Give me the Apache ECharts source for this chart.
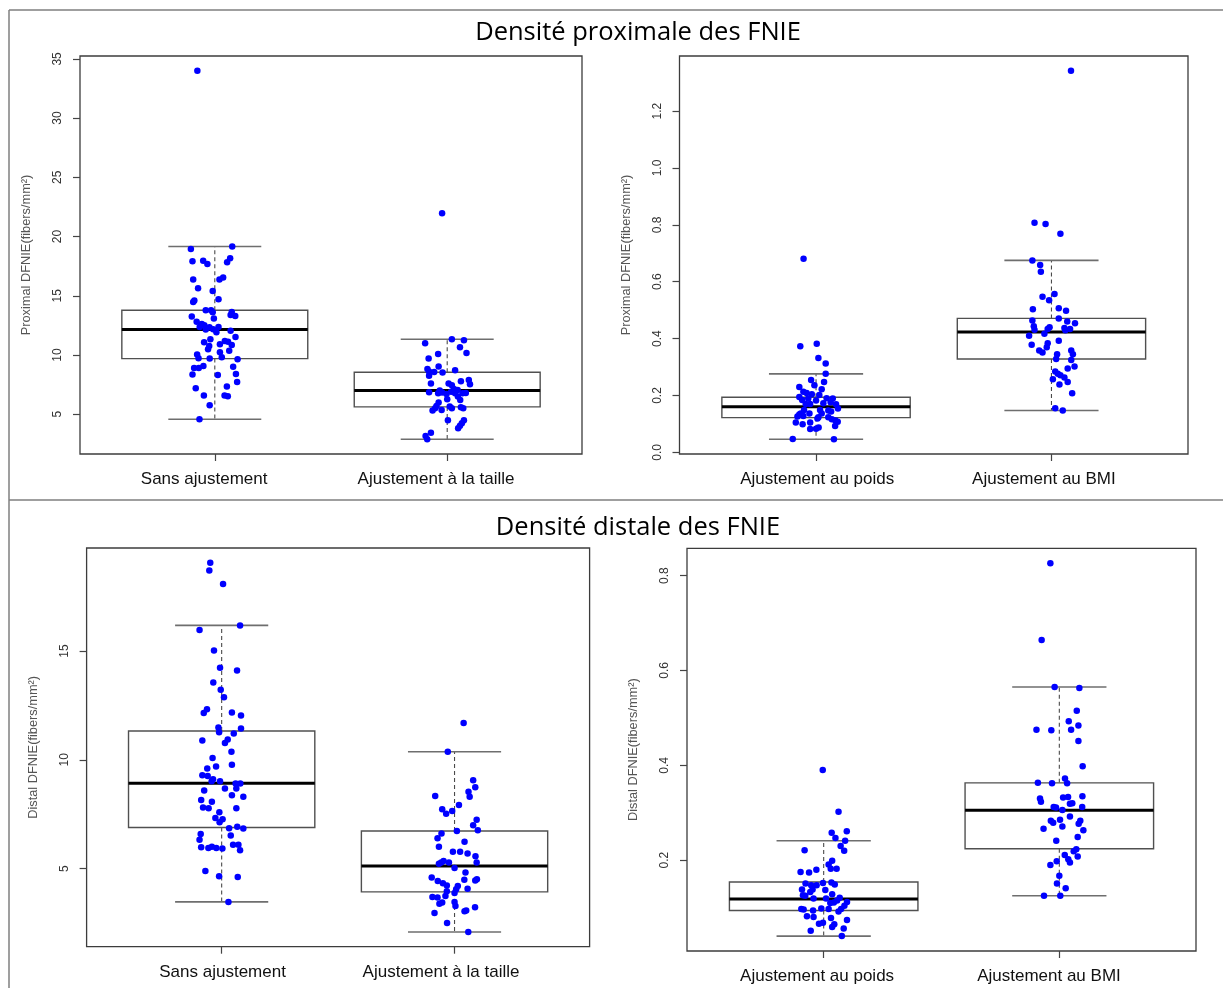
<!DOCTYPE html>
<html>
<head>
<meta charset="utf-8">
<script src="https://cdn.jsdelivr.net/npm/echarts@6.0.0/dist/echarts.min.js"></script>
<style>
  html, body { margin: 0; padding: 0; background: #ffffff; }
  #chart { width: 1223px; height: 988px; }
</style>
</head>
<body>
<div id="chart"></div>
<script>
// ---------------- DATA ----------------
const catsLeft = ['Sans ajustement', 'Ajustement à la taille'];
const catsRight = ['Ajustement au poids', 'Ajustement au BMI'];

const yNameProx = 'Proximal DFNIE(fibers/mm²)';
const yNameDist = 'Distal DFNIE(fibers/mm²)';

// box statistics [lower whisker, Q1, median, Q3, upper whisker]
const statsProxSans   = [4.58, 9.70, 12.15, 13.78, 19.16];
const statsProxTaille = [2.89, 5.62, 7.00, 8.55, 11.33];
const statsProxPoids  = [0.046, 0.122, 0.160, 0.194, 0.276];
const statsProxBMI    = [0.147, 0.328, 0.423, 0.471, 0.675];
const statsDistSans   = [3.47, 6.89, 8.93, 11.33, 16.18];
const statsDistTaille = [2.09, 3.93, 5.12, 6.73, 10.37];
const statsDistPoids  = [0.040, 0.094, 0.118, 0.154, 0.241];
const statsDistBMI    = [0.125, 0.224, 0.305, 0.363, 0.565];

// individual observations
const valsProxSans = [
  18.96,19.16,17.92,17.95,17.69,18.17,17.83,16.37,16.54,16.37,
  15.64,15.41,14.71,14.60,14.48,13.78,13.78,13.61,13.64,13.39,
  13.30,13.25,13.08,12.82,12.63,12.37,12.51,12.35,12.37,12.15,
  12.17,11.92,12.06,11.53,11.33,11.08,11.19,11.13,10.91,10.85,
  10.77,10.49,10.23,10.37,10.04,9.73,9.70,9.81,9.64,8.91,
  8.91,9.08,9.02,8.35,8.32,8.40,7.73,7.19,7.34,6.58,
  6.58,6.52,5.76,4.58,34.00
];
const jitProxSans = [
  -0.103,0.075,-0.096,-0.050,-0.032,0.066,0.053,-0.093,0.036,0.020,
  -0.072,-0.009,0.016,-0.088,-0.093,-0.039,-0.016,-0.009,0.073,0.068,
  0.088,-0.099,-0.004,-0.078,-0.056,-0.065,-0.045,-0.023,0.016,-0.039,
  -0.007,0.007,0.068,0.089,-0.019,-0.046,0.043,0.057,0.022,0.073,
  -0.024,-0.029,0.022,0.062,-0.076,-0.070,-0.022,0.030,0.098,-0.089,
  -0.069,-0.049,0.079,-0.096,0.013,0.091,0.096,-0.082,0.052,-0.047,
  0.042,0.056,-0.022,-0.066,-0.075
];

const valsProxTaille = [
  10.99,11.33,11.25,10.66,10.18,10.09,9.70,8.83,9.03,8.60,
  8.57,8.52,8.71,8.26,7.90,7.79,7.53,7.59,7.59,7.45,
  7.14,7.05,7.00,6.77,6.86,6.91,6.77,6.77,6.80,6.83,
  6.72,6.49,6.21,6.27,5.99,5.70,5.51,5.31,5.37,5.65,
  5.51,5.59,5.51,4.49,4.49,4.24,4.02,3.82,3.45,3.17,
  2.89,21.97
];
const jitProxTaille = [
  -0.095,0.020,0.072,0.055,0.083,-0.039,-0.080,-0.085,-0.037,-0.078,
  -0.056,-0.020,0.034,-0.078,0.093,0.059,0.098,-0.070,0.006,0.020,
  0.029,0.045,-0.032,-0.039,-0.078,0.017,0.034,0.066,0.080,-0.022,
  -0.003,0.046,0.056,0.000,-0.037,-0.046,-0.052,-0.063,-0.024,0.011,
  0.020,0.059,0.069,0.003,0.072,0.063,0.055,0.047,-0.070,-0.093,
  -0.086,-0.022
];

const valsProxPoids = [
  0.373,0.382,0.332,0.312,0.276,0.254,0.247,0.230,0.236,0.222,
  0.213,0.209,0.204,0.202,0.195,0.184,0.189,0.190,0.189,0.182,
  0.173,0.170,0.170,0.169,0.176,0.154,0.149,0.149,0.147,0.144,
  0.137,0.133,0.137,0.137,0.126,0.128,0.123,0.123,0.116,0.112,
  0.108,0.105,0.099,0.105,0.119,0.093,0.082,0.083,0.087,0.047,
  0.046,0.681
];
const jitProxPoids = [
  -0.067,0.003,0.010,0.041,0.041,-0.021,0.034,-0.071,-0.007,0.024,
  -0.054,-0.040,-0.018,0.014,-0.071,-0.059,-0.033,0.045,0.071,0.000,
  0.031,-0.044,-0.025,0.085,0.062,0.093,-0.051,0.017,0.052,0.064,
  -0.065,-0.071,-0.028,0.024,-0.079,-0.054,0.010,0.052,0.067,0.082,
  0.092,-0.086,-0.057,-0.025,0.006,0.081,-0.025,0.000,0.011,-0.099,
  0.076,-0.053
];

const valsProxBMI = [
  0.807,0.803,0.769,0.675,0.659,0.635,0.547,0.557,0.535,0.503,
  0.507,0.498,0.464,0.471,0.460,0.454,0.443,0.440,0.431,0.434,
  0.437,0.434,0.429,0.417,0.410,0.392,0.384,0.378,0.370,0.358,
  0.351,0.358,0.345,0.345,0.325,0.328,0.302,0.295,0.284,0.276,
  0.271,0.263,0.247,0.257,0.239,0.208,0.155,0.147,1.342
];
const jitProxBMI = [
  -0.072,-0.025,0.038,-0.081,-0.048,-0.045,-0.038,0.013,-0.010,-0.079,
  0.031,0.062,-0.081,0.031,0.067,0.100,-0.075,-0.008,-0.072,-0.016,
  0.055,0.079,0.059,-0.030,-0.095,0.031,-0.016,-0.084,-0.020,-0.052,
  -0.038,0.084,0.091,0.024,0.084,0.020,0.098,0.069,0.016,0.027,
  0.038,0.055,0.069,0.006,0.034,0.088,0.016,0.048,0.083
];

const valsDistSans = [
  19.06,18.71,18.08,16.18,15.97,15.03,14.23,14.11,13.56,13.22,
  12.88,12.33,12.15,12.18,12.04,11.49,11.44,11.27,11.21,10.89,
  10.94,10.78,10.37,10.08,9.69,9.77,9.60,9.29,9.26,9.11,
  9.02,9.02,8.91,8.91,8.68,8.68,8.59,8.37,8.30,8.16,
  8.07,7.81,7.78,7.78,7.59,7.33,7.27,7.13,6.86,6.92,
  6.84,6.59,6.52,6.33,6.10,6.10,5.98,5.95,6.01,5.95,
  5.92,5.84,4.89,4.65,4.62,3.47
];
const jitDistSans = [
  -0.049,-0.053,0.006,0.079,-0.095,-0.033,-0.007,0.066,-0.036,-0.004,
  0.010,-0.063,-0.077,0.044,0.083,-0.014,0.083,-0.011,0.052,-0.083,
  0.026,0.014,0.042,-0.039,-0.024,0.044,-0.062,-0.083,-0.060,-0.037,
  -0.043,-0.007,0.060,0.080,0.014,0.063,-0.075,0.044,0.093,-0.088,
  -0.042,-0.080,-0.056,0.063,-0.010,-0.027,0.004,-0.009,0.032,0.067,
  0.093,-0.090,0.039,-0.095,0.049,0.072,-0.088,-0.057,-0.042,-0.023,
  0.003,0.079,-0.070,-0.011,0.069,0.029
];

const valsDistTaille = [
  11.70,10.37,9.06,8.74,8.53,8.30,8.34,7.93,7.73,7.65,
  7.52,7.25,6.99,6.76,6.73,6.61,6.40,6.23,6.00,5.78,
  5.78,5.69,5.57,5.28,5.23,5.35,5.28,5.28,5.03,4.82,
  4.59,4.43,4.33,4.23,4.49,4.46,4.51,4.20,4.05,4.08,
  3.96,3.88,3.70,3.67,3.74,3.47,3.39,3.44,3.28,3.22,
  3.04,3.08,2.96,2.50,2.09
];
const jitDistTaille = [
  0.039,-0.029,0.080,0.089,0.060,0.065,-0.083,0.019,-0.053,-0.010,
  -0.036,0.095,0.080,0.100,0.010,-0.056,-0.073,0.043,-0.067,-0.007,
  0.024,0.056,0.090,0.095,-0.067,-0.047,-0.024,-0.057,0.000,0.047,
  -0.098,-0.072,-0.050,-0.033,0.042,0.089,0.096,0.014,0.007,0.056,
  -0.033,0.000,-0.095,-0.073,-0.039,0.000,-0.065,-0.053,0.004,0.088,
  0.043,0.050,-0.086,-0.032,0.059
];

const valsDistPoids = [
  0.390,0.302,0.258,0.261,0.247,0.241,0.221,0.230,0.220,0.199,
  0.191,0.182,0.182,0.175,0.174,0.180,0.151,0.147,0.147,0.152,
  0.153,0.149,0.138,0.138,0.133,0.137,0.126,0.125,0.119,0.128,
  0.121,0.115,0.119,0.110,0.111,0.112,0.104,0.097,0.096,0.094,
  0.098,0.097,0.092,0.097,0.082,0.080,0.078,0.074,0.068,0.066,
  0.065,0.059,0.056,0.051,0.040
];
const jitDistPoids = [
  -0.004,0.063,0.034,0.098,0.050,0.091,-0.081,0.072,0.087,0.036,
  0.021,0.030,0.055,-0.098,-0.062,-0.031,-0.077,-0.053,-0.030,-0.003,
  0.033,0.047,-0.092,-0.047,-0.057,0.007,-0.088,-0.078,-0.043,0.036,
  0.068,0.057,0.010,0.028,0.043,0.099,0.088,-0.095,-0.085,-0.045,
  -0.010,0.021,0.063,0.074,-0.071,-0.043,0.031,0.099,-0.003,-0.020,
  0.045,0.036,0.085,-0.055,0.077
];

const valsDistBMI = [
  0.826,0.664,0.565,0.563,0.515,0.493,0.484,0.475,0.474,0.475,
  0.451,0.398,0.363,0.362,0.372,0.362,0.330,0.323,0.332,0.333,
  0.335,0.319,0.320,0.312,0.311,0.312,0.306,0.292,0.283,0.279,
  0.285,0.283,0.277,0.266,0.271,0.263,0.249,0.241,0.223,0.219,
  0.211,0.208,0.198,0.202,0.195,0.190,0.167,0.151,0.141,0.125,
  0.125
];
const jitDistBMI = [
  -0.038,-0.075,-0.020,0.085,0.074,0.040,0.081,-0.097,-0.034,0.050,
  0.081,0.099,-0.091,-0.031,0.024,0.033,-0.082,-0.078,0.016,0.037,
  0.098,0.045,0.055,-0.024,-0.014,0.097,0.013,0.045,-0.036,-0.026,
  0.003,0.089,0.082,-0.067,0.013,0.102,0.078,-0.013,0.072,0.061,
  0.023,0.078,-0.011,0.038,0.045,-0.038,0.000,-0.010,0.027,-0.065,
  0.004
];

const ticksProxLeft  = [5, 10, 15, 20, 25, 30, 35];
const ticksProxRight = [0.0, 0.2, 0.4, 0.6, 0.8, 1.0, 1.2];
const ticksDistLeft  = [5, 10, 15];
const ticksDistRight = [0.2, 0.4, 0.6, 0.8];

// ---------------- PANELS (layout) ----------------
// labelAt: where each category label is centred on the x scale (the labels sit slightly off the ticks)
const panels = [
  { box: { left: 80, top: 56, width: 502, height: 398 }, cats: catsLeft, yName: yNameProx,
    ticks: ticksProxLeft, digits: 0, labelAt: [0.954, 1.952],
    groups: [[valsProxSans, jitProxSans], [valsProxTaille, jitProxTaille]],
    stats: [statsProxSans, statsProxTaille] },
  { box: { left: 679.5, top: 56, width: 508.5, height: 398 }, cats: catsRight, yName: yNameProx,
    ticks: ticksProxRight, digits: 1, labelAt: [1.005, 1.968],
    groups: [[valsProxPoids, jitProxPoids], [valsProxBMI, jitProxBMI]],
    stats: [statsProxPoids, statsProxBMI] },
  { box: { left: 86.6, top: 548, width: 503, height: 398.7 }, cats: catsLeft, yName: yNameDist,
    ticks: ticksDistLeft, digits: 0, labelAt: [1.004, 1.942],
    groups: [[valsDistSans, jitDistSans], [valsDistTaille, jitDistTaille]],
    stats: [statsDistSans, statsDistTaille] },
  { box: { left: 687, top: 548.3, width: 509, height: 402.7 }, cats: catsRight, yName: yNameDist,
    ticks: ticksDistRight, digits: 1, labelAt: [0.972, 1.956],
    groups: [[valsDistPoids, jitDistPoids], [valsDistBMI, jitDistBMI]],
    stats: [statsDistPoids, statsDistBMI] }
];

const AXIS_FONT = '"Liberation Sans", Arial, sans-serif';

function yRange(p) {
  let all = [];
  p.groups.forEach(g => { all = all.concat(g[0]); });
  p.stats.forEach(s => { all = all.concat(s); });
  const lo = Math.min.apply(null, all), hi = Math.max.apply(null, all);
  const pad = (hi - lo) * 0.04;
  return [lo - pad, hi + pad];
}

function renderBox(params, api) {
  const x = api.value(0);
  const lo = api.value(1), q1 = api.value(2), md = api.value(3), q3 = api.value(4), hi = api.value(5);
  const unit = api.size([1, 0])[0];
  const c = api.coord([x, md])[0];
  const Y = v => api.coord([x, v])[1];
  const bw = unit * 0.4, cw = unit * 0.2;
  const dash = { stroke: '#4a4a4a', lineWidth: 1.1, lineDash: [4, 3] };
  const cap = { stroke: '#6e6e6e', lineWidth: 1.6 };
  return {
    type: 'group',
    children: [
      { type: 'line', shape: { x1: c, y1: Y(q3), x2: c, y2: Y(hi) }, style: dash },
      { type: 'line', shape: { x1: c, y1: Y(q1), x2: c, y2: Y(lo) }, style: dash },
      { type: 'line', shape: { x1: c - cw, y1: Y(hi), x2: c + cw, y2: Y(hi) }, style: cap },
      { type: 'line', shape: { x1: c - cw, y1: Y(lo), x2: c + cw, y2: Y(lo) }, style: cap },
      { type: 'rect', shape: { x: c - bw, y: Y(q3), width: 2 * bw, height: Y(q1) - Y(q3) },
        style: { fill: '#ffffff', stroke: '#505050', lineWidth: 1.4 } },
      { type: 'line', shape: { x1: c - bw, y1: Y(md), x2: c + bw, y2: Y(md) },
        style: { stroke: '#000000', lineWidth: 3 } }
    ]
  };
}

const grids = [], xAxes = [], yAxes = [], series = [];
panels.forEach((p, i) => {
  const r = yRange(p);
  grids.push(Object.assign({ show: true, borderColor: '#3c3c3c', borderWidth: 1.3,
                             backgroundColor: 'transparent', containLabel: false }, p.box));
  xAxes.push({
    type: 'value', gridIndex: i, min: 0.42, max: 2.58,
    axisLine: { show: false, onZero: false },
    splitLine: { show: false },
    axisTick: { show: true, length: 7, customValues: [1, 2], lineStyle: { color: '#444', width: 1.2 } },
    axisLabel: { customValues: p.labelAt, formatter: v => p.cats[Math.round(v) - 1],
                 margin: 17, fontSize: 17, color: '#111', fontFamily: AXIS_FONT }
  });
  yAxes.push({
    type: 'value', gridIndex: i, min: r[0], max: r[1],
    axisLine: { show: false, onZero: false },
    splitLine: { show: false },
    axisTick: { show: true, length: 7, customValues: p.ticks, lineStyle: { color: '#444', width: 1.2 } },
    axisLabel: { customValues: p.ticks, formatter: v => Number(v).toFixed(p.digits), rotate: 90,
                 margin: 16, fontSize: 12, color: '#333', fontFamily: AXIS_FONT },
    name: p.yName, nameLocation: 'middle', nameGap: 47,
    nameTextStyle: { fontSize: 12.8, color: '#555', fontFamily: AXIS_FONT }
  });
  series.push({
    type: 'custom', xAxisIndex: i, yAxisIndex: i, z: 2, silent: true,
    renderItem: renderBox,
    encode: { x: 0, y: [1, 2, 3, 4, 5] },
    data: p.stats.map((s, k) => [k + 1].concat(s))
  });
  p.groups.forEach((g, k) => {
    series.push({
      type: 'scatter', xAxisIndex: i, yAxisIndex: i, z: 3, silent: true,
      symbol: 'circle', symbolSize: 6.5,
      itemStyle: { color: '#0000ff', opacity: 1 },
      data: g[0].map((v, j) => [k + 1 + g[1][j], v])
    });
  });
});

const frame = { stroke: '#7f7f7f', lineWidth: 1.5 };
const option = {
  backgroundColor: '#ffffff',
  animation: false,
  grid: grids, xAxis: xAxes, yAxis: yAxes, series: series,
  graphic: [
    { type: 'line', shape: { x1: 9, y1: 10, x2: 1223, y2: 10 }, style: frame },
    { type: 'line', shape: { x1: 9, y1: 10, x2: 9, y2: 988 }, style: frame },
    { type: 'line', shape: { x1: 9, y1: 500, x2: 1223, y2: 500 }, style: frame },
    { type: 'text', x: 638, y: 33,
      style: { text: 'Densité proximale des FNIE', font: '25.5px "Open Sans", sans-serif', fill: '#000',
               textAlign: 'center', textVerticalAlign: 'middle', align: 'center', verticalAlign: 'middle' } },
    { type: 'text', x: 638, y: 528,
      style: { text: 'Densité distale des FNIE', font: '25.5px "Open Sans", sans-serif', fill: '#000',
               textAlign: 'center', textVerticalAlign: 'middle', align: 'center', verticalAlign: 'middle' } }
  ]
};

const chart = echarts.init(document.getElementById('chart'), null, { renderer: 'canvas' });
chart.setOption(option);
</script>
</body>
</html>
